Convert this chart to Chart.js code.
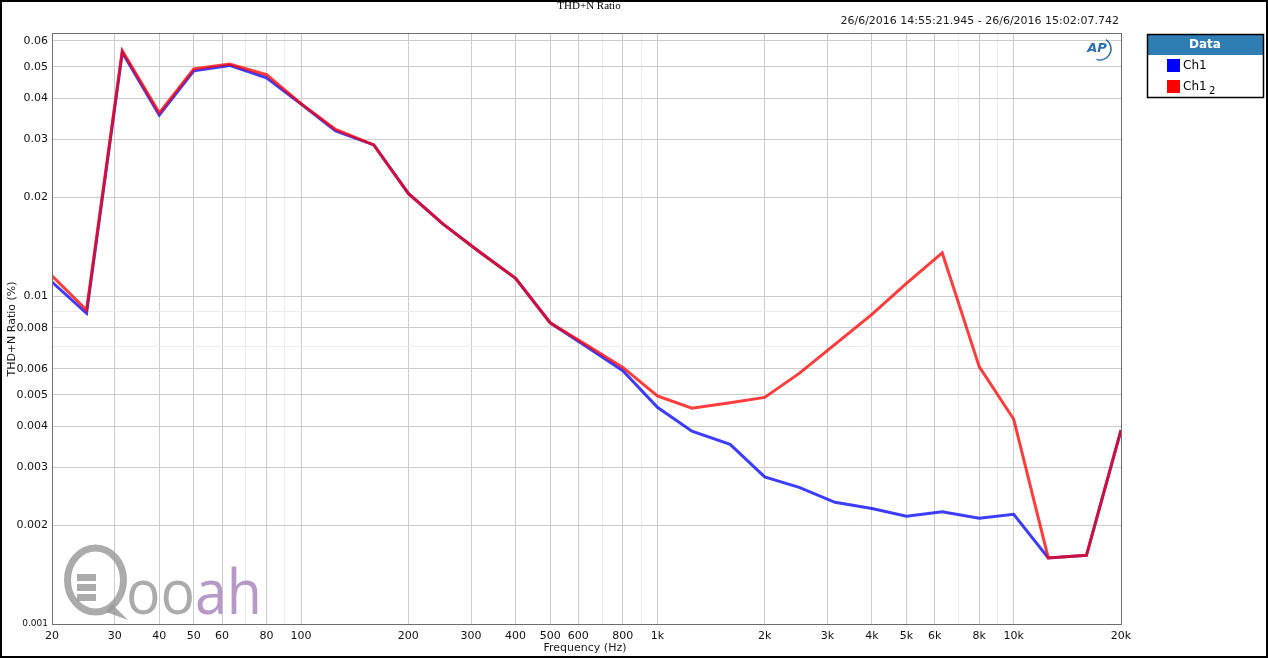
<!DOCTYPE html>
<html>
<head>
<meta charset="utf-8">
<script src="https://cdn.jsdelivr.net/npm/chart.js@4/dist/chart.umd.min.js"></script>
<style>
  html, body { margin: 0; padding: 0; background: #fff; }
  #wrap { width: 1268px; height: 658px; position: relative; }
</style>
</head>
<body>
<div id="wrap"><canvas id="thdChart" width="1268" height="658"></canvas></div>
<script>
// frequency points (Hz), 1/3 octave steps
const freqs = [20, 25, 31.5, 40, 50, 63, 80, 100, 125, 160, 200, 250, 315, 400, 500, 630, 800,
  1000, 1250, 1600, 2000, 2500, 3150, 4000, 5000, 6300, 8000, 10000, 12500, 16000, 20000];

// THD+N ratio in %
const ch1 = [0.01103, 0.00886, 0.0553, 0.0356, 0.0486, 0.0505, 0.0463, 0.0385, 0.0319, 0.0289,
  0.02056, 0.0166, 0.0137, 0.01132, 0.00829, 0.00703, 0.00592, 0.00458, 0.00387, 0.00353,
  0.00281, 0.00261, 0.00235, 0.00225, 0.00213, 0.0022, 0.0021, 0.00216, 0.00159, 0.00162, 0.0039];
const ch1b = [0.01153, 0.00906, 0.056, 0.0362, 0.0493, 0.051, 0.0473, 0.0386, 0.0322, 0.0289,
  0.02056, 0.0166, 0.0137, 0.01132, 0.00829, 0.00712, 0.00606, 0.00496, 0.00455, 0.00473,
  0.00491, 0.00581, 0.00712, 0.00879, 0.01093, 0.01355, 0.00609, 0.00421, 0.00159, 0.00162, 0.0039];

const xTicks = [20, 30, 40, 50, 60, 70, 80, 90, 100, 200, 300, 400, 500, 600, 700, 800, 900,
  1000, 2000, 3000, 4000, 5000, 6000, 7000, 8000, 9000, 10000, 20000];
const xTickLabels = ["20", "30", "40", "50", "60", "", "80", "", "100", "200", "300", "400", "500",
  "600", "", "800", "", "1k", "2k", "3k", "4k", "5k", "6k", "", "8k", "", "10k", "20k"];

const yTicks = [0.001, 0.002, 0.003, 0.004, 0.005, 0.006, 0.007, 0.008, 0.009,
  0.01, 0.02, 0.03, 0.04, 0.05, 0.06];
const yTickLabels = ["0.001", "0.002", "0.003", "0.004", "0.005", "0.006", "", "0.008", "",
  "0.01", "0.02", "0.03", "0.04", "0.05", "0.06"];

const seriesNames = ["Ch1", "Ch1"];
const seriesColors = ["#0000ff", "#ff0000"];

const FONT = "'DejaVu Sans', sans-serif";

function gridColor(labels) {
  return (ctx) => (ctx.index != null && labels[ctx.index] === "" ? "#ececec" : "#cbcbcb");
}

// frame, titles, legend and watermark
const decorPlugin = {
  id: "decor",
  beforeDatasetsDraw(chart) {
    const c = chart.ctx;
    // Qooah watermark
    c.save();
    c.strokeStyle = "rgba(150,150,150,0.8)";
    c.fillStyle = "rgba(150,150,150,0.8)";
    c.lineWidth = 7;
    c.beginPath();
    c.ellipse(95.5, 580, 28, 32, 0, 0, Math.PI * 2);
    c.stroke();
    c.beginPath();
    c.moveTo(112, 604);
    c.lineTo(128, 620);
    c.lineTo(106, 612);
    c.closePath();
    c.fill();
    c.fillRect(77, 574, 19, 7);
    c.fillRect(77, 584, 19, 7);
    c.fillRect(77, 594, 19, 7);
    c.font = "62px 'Open Sans', sans-serif";
    c.textBaseline = "alphabetic";
    c.textAlign = "left";
    c.fillText("oo", 126, 614, 69);
    c.fillStyle = "rgba(170,135,190,0.85)";
    c.fillText("ah", 195, 614, 67);
    c.restore();
  },
  afterDraw(chart) {
    const c = chart.ctx;
    const a = chart.chartArea;
    c.save();
    // plot frame
    c.strokeStyle = "#6e6e6e";
    c.lineWidth = 1;
    c.strokeRect(a.left + 0.5, a.top + 0.5, a.right - a.left, a.bottom - a.top);
    // outer frame
    c.strokeStyle = "#000";
    c.lineWidth = 2;
    c.strokeRect(1, 1, 1266, 656);

    // title
    c.fillStyle = "#000";
    c.font = "11px 'Liberation Serif', serif";
    c.textAlign = "center";
    c.textBaseline = "middle";
    c.fillText("THD+N Ratio", 589, 6);

    // timestamp
    c.font = "11px " + FONT;
    c.textAlign = "right";
    c.fillStyle = "#1a1a1a";
    c.fillText("26/6/2016 14:55:21.945 - 26/6/2016 15:02:07.742", 1119, 21);

    // axis titles
    c.textAlign = "center";
    c.fillText("Frequency (Hz)", 585, 648);
    c.save();
    c.translate(12, 329);
    c.rotate(-Math.PI / 2);
    c.fillText("THD+N Ratio (%)", 0, 0);
    c.restore();

    // AP logo
    c.fillStyle = "#2a6fb0";
    c.font = "italic bold 13px " + FONT;
    c.textAlign = "center";
    c.fillText("AP", 1097, 49);
    c.strokeStyle = "#2a6fb0";
    c.lineWidth = 1.5;
    c.beginPath();
    c.arc(1100, 49, 11, -1.0, 1.9);
    c.stroke();

    // legend
    const lx = 1147, ly = 34, lw = 116, lh = 63;
    c.fillStyle = "#2e7db3";
    c.fillRect(lx, ly, lw, 21);
    c.fillStyle = "#fff";
    c.font = "bold 12px " + FONT;
    c.fillText("Data", lx + lw / 2, ly + 11);
    c.strokeStyle = "#000";
    c.lineWidth = 1.5;
    c.strokeRect(lx + 0.5, ly + 0.5, lw, lh);
    c.textAlign = "left";
    c.font = "12px " + FONT;
    seriesNames.forEach((name, i) => {
      const y = ly + 31 + i * 21;
      c.fillStyle = seriesColors[i];
      c.fillRect(1167, y - 6, 13, 13);
      c.fillStyle = "#000";
      c.fillText(name, 1183, y + 1);
      if (i === 1) {
        c.font = "10px " + FONT;
        c.fillText("2", 1209, y + 5);
        c.font = "12px " + FONT;
      }
    });
    c.restore();
  },
};

function buildChart() {
  const ctx = document.getElementById("thdChart");
  return new Chart(ctx, {
    type: "line",
    data: {
      datasets: [
        {
          label: "Ch1 2",
          data: freqs.map((f, i) => ({ x: f, y: ch1b[i] })),
          borderColor: "rgba(255,0,0,0.76)",
          borderWidth: 3,
          pointRadius: 0,
          tension: 0,
          order: 0,
        },
        {
          label: "Ch1",
          data: freqs.map((f, i) => ({ x: f, y: ch1[i] })),
          borderColor: "rgba(0,0,255,0.76)",
          borderWidth: 3,
          pointRadius: 0,
          tension: 0,
          order: 1,
        },
      ],
    },
    options: {
      responsive: false,
      animation: false,
      layout: { padding: { left: 0, top: 33, right: 147, bottom: 0 } },
      plugins: {
        legend: { display: false },
        title: { display: false },
        tooltip: { enabled: false },
      },
      scales: {
        x: {
          type: "logarithmic",
          min: 20,
          max: 20000,
          bounds: "data",
          afterBuildTicks: (scale) => {
            scale.ticks = xTicks.map((v) => ({ value: v }));
          },
          afterFit: (scale) => {
            scale.height = 34;
          },
          grid: { color: gridColor(xTickLabels), drawTicks: false, lineWidth: 1 },
          border: { display: false },
          ticks: {
            autoSkip: false,
            maxRotation: 0,
            padding: 6,
            color: "#111",
            font: { family: "DejaVu Sans", size: 11 },
            callback: (v, i) => xTickLabels[i],
          },
        },
        y: {
          type: "logarithmic",
          min: 0.001,
          max: 0.0634,
          bounds: "data",
          afterBuildTicks: (scale) => {
            scale.ticks = yTicks.map((v) => ({ value: v }));
          },
          afterFit: (scale) => {
            scale.width = 52;
          },
          grid: { color: gridColor(yTickLabels), drawTicks: false, lineWidth: 1 },
          border: { display: false },
          ticks: {
            autoSkip: false,
            padding: 4,
            color: "#111",
            font: (c) => ({ family: "DejaVu Sans", size: c.index === 0 ? 9 : 11 }),
            callback: (v, i) => yTickLabels[i],
          },
        },
      },
    },
    plugins: [decorPlugin],
  });
}

document.addEventListener("DOMContentLoaded", () => {
  buildChart();
});
</script>
</body>
</html>
